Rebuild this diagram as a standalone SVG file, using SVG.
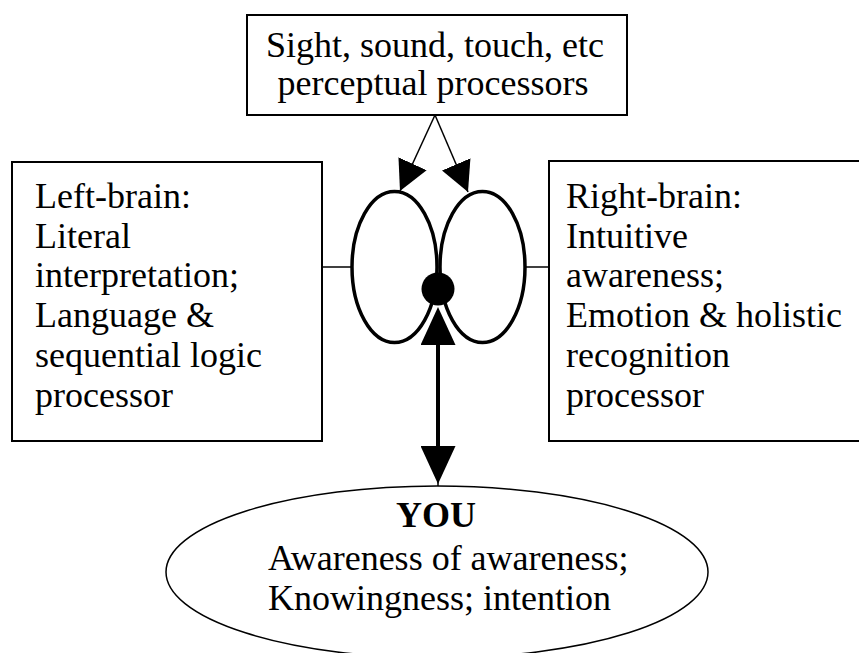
<svg xmlns="http://www.w3.org/2000/svg" width="859" height="653" viewBox="0 0 859 653">
<style>
  .box { fill: #ffffff; stroke: #000000; stroke-width: 2; }
  .lobe { fill: #ffffff; stroke: #000000; stroke-width: 3.5; }
  .txt { font-family: "Liberation Serif", "Times New Roman", serif; font-size: 36px; fill: #000000; }
  .thin { stroke: #000000; stroke-width: 1.5; fill: none; }
  .thick { stroke: #000000; stroke-width: 4; fill: none; }
</style>
<defs>
  <marker id="headSmall" markerUnits="userSpaceOnUse" markerWidth="30" markerHeight="31" refX="30" refY="15.5" orient="auto">
    <path d="M0,0 L30,15.5 L0,31 Z" fill="#000000"/>
  </marker>
  <marker id="headBig" markerUnits="userSpaceOnUse" markerWidth="38" markerHeight="35" refX="0" refY="17.5" orient="auto-start-reverse">
    <path d="M0,0 L38,17.5 L0,35 Z" fill="#000000"/>
  </marker>
</defs>
<rect width="859" height="653" fill="#ffffff"/>

<g id="connectors">
  <line class="thin" x1="322" y1="267" x2="352" y2="267"/>
  <line class="thin" x1="525" y1="267" x2="549" y2="267"/>
  <line class="thin" x1="435" y1="115" x2="400" y2="191" marker-end="url(#headSmall)"/>
  <line class="thin" x1="435" y1="115" x2="468" y2="192" marker-end="url(#headSmall)"/>
  <line class="thick" x1="438" y1="345" x2="438" y2="446" marker-start="url(#headBig)" marker-end="url(#headBig)"/>
  <line class="thin" x1="438" y1="480" x2="438" y2="487"/>
</g>

<g id="perceptual">
  <rect class="box" x="247" y="15" width="380" height="100"/>
  <text class="txt" x="435" y="57" text-anchor="middle">Sight, sound, touch, etc</text>
  <text class="txt" x="433" y="95" text-anchor="middle">perceptual processors</text>
</g>

<g id="left-brain">
  <rect class="box" x="12" y="162" width="310" height="279"/>
  <text class="txt" x="35" y="208">Left-brain:</text>
  <text class="txt" x="35" y="248">Literal</text>
  <text class="txt" x="35" y="287">interpretation;</text>
  <text class="txt" x="35" y="327">Language &amp;</text>
  <text class="txt" x="35" y="367">sequential logic</text>
  <text class="txt" x="35" y="407">processor</text>
</g>

<g id="right-brain">
  <rect class="box" x="549" y="161" width="330" height="280"/>
  <text class="txt" x="566" y="208">Right-brain:</text>
  <text class="txt" x="566" y="248">Intuitive</text>
  <text class="txt" x="566" y="287">awareness;</text>
  <text class="txt" x="566" y="327">Emotion &amp; holistic</text>
  <text class="txt" x="566" y="367">recognition</text>
  <text class="txt" x="566" y="407">processor</text>
</g>

<g id="brain">
  <ellipse class="lobe" cx="394.5" cy="267" rx="42.5" ry="75.5"/>
  <ellipse class="lobe" cx="482.5" cy="267" rx="42.5" ry="75.5"/>
  <circle cx="438" cy="289" r="16.5" fill="#000000"/>
</g>

<g id="you">
  <ellipse cx="437" cy="572" rx="271" ry="86" fill="#ffffff" stroke="#000000" stroke-width="1.5"/>
  <text class="txt" x="436" y="527" text-anchor="middle" font-weight="bold">YOU</text>
  <text class="txt" x="268" y="570">Awareness of awareness;</text>
  <text class="txt" x="268" y="610">Knowingness; intention</text>
</g>
</svg>
